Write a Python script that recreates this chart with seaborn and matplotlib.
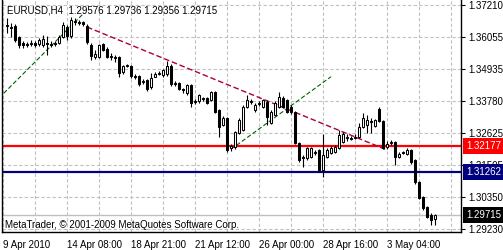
import matplotlib
matplotlib.use("Agg")
import matplotlib.pyplot as plt
import matplotlib.transforms as mtransforms
import seaborn as sns
import numpy as np

# ---------------- data (EURUSD H4) ----------------
opens = [1.36461, 1.36425, 1.36461, 1.36068, 1.35854, 1.35818, 1.35818, 1.35854, 1.35818, 1.35783,
         1.35854, 1.35818, 1.35854, 1.35854, 1.36068, 1.36425, 1.36104, 1.36639, 1.36604, 1.36604,
         1.36461, 1.35783, 1.35354, 1.35354, 1.35818, 1.35640, 1.35390, 1.35354, 1.35354, 1.34819,
         1.35033, 1.35033, 1.34676, 1.34676, 1.34462, 1.34533, 1.34283, 1.34640, 1.34747, 1.34712,
         1.34747, 1.35033, 1.34426, 1.34426, 1.34212, 1.34069, 1.34355, 1.33783, 1.33783, 1.33890,
         1.33890, 1.33819, 1.34105, 1.33462, 1.32927, 1.33177, 1.32105, 1.32141, 1.32641, 1.32748,
         1.33569, 1.33748, 1.33462, 1.33676, 1.33569, 1.33748, 1.32998, 1.33284, 1.33569, 1.33890,
         1.33819, 1.33569, 1.33391, 1.32284, 1.31749, 1.31749, 1.31784, 1.31963, 1.32034, 1.31320,
         1.31784, 1.31927, 1.31963, 1.32105, 1.32320, 1.32462, 1.32427, 1.32462, 1.32498, 1.32855,
         1.32927, 1.33069, 1.32891, 1.33498, 1.33069, 1.32141, 1.32284, 1.32320, 1.31784, 1.31927,
         1.31891, 1.32034, 1.31677, 1.30892, 1.30356, 1.29999, 1.29714, 1.29576]
highs = [1.36746, 1.36568, 1.36532, 1.36104, 1.35925, 1.35890, 1.35961, 1.35925, 1.36032, 1.36140,
         1.36104, 1.35925, 1.35925, 1.36140, 1.36604, 1.36497, 1.36782, 1.36746, 1.36675, 1.36639,
         1.36532, 1.35854, 1.35604, 1.35818, 1.35854, 1.35711, 1.35497, 1.35426, 1.35390, 1.35069,
         1.35104, 1.35069, 1.34747, 1.34712, 1.34569, 1.34569, 1.34783, 1.34819, 1.34854, 1.34926,
         1.35211, 1.35104, 1.34497, 1.34462, 1.34247, 1.34390, 1.34390, 1.33855, 1.34033, 1.33926,
         1.33926, 1.34140, 1.34140, 1.33498, 1.33248, 1.33212, 1.32248, 1.32712, 1.33177, 1.33641,
         1.33998, 1.33855, 1.33712, 1.33783, 1.33855, 1.33819, 1.33462, 1.33783, 1.34105, 1.33962,
         1.33855, 1.33641, 1.33426, 1.32320, 1.31856, 1.32141, 1.32141, 1.32034, 1.32070, 1.32605,
         1.32105, 1.32177, 1.32213, 1.32748, 1.32677, 1.32605, 1.32534, 1.32605, 1.32998, 1.33355,
         1.33284, 1.33177, 1.33141, 1.33569, 1.33105, 1.32355, 1.32391, 1.32355, 1.31963, 1.31998,
         1.32105, 1.32070, 1.31713, 1.30927, 1.30392, 1.30035, 1.29785, 1.29736]
lows = [1.36211, 1.36068, 1.35890, 1.35675, 1.35675, 1.35711, 1.35747, 1.35711, 1.35747, 1.35711,
        1.35426, 1.35711, 1.35747, 1.35818, 1.36032, 1.35961, 1.36032, 1.36497, 1.36497, 1.36461,
        1.35818, 1.35247, 1.35283, 1.35318, 1.35568, 1.35318, 1.35247, 1.35176, 1.34640, 1.34747,
        1.34997, 1.34604, 1.34569, 1.34319, 1.34390, 1.34140, 1.34212, 1.34640, 1.34712, 1.34640,
        1.34676, 1.34319, 1.34319, 1.34176, 1.34069, 1.33998, 1.33569, 1.33676, 1.33712, 1.33783,
        1.33676, 1.33783, 1.33355, 1.32498, 1.32891, 1.31963, 1.31998, 1.32070, 1.32605, 1.32712,
        1.33533, 1.33676, 1.33391, 1.33605, 1.33533, 1.32927, 1.32962, 1.33248, 1.33533, 1.33533,
        1.33355, 1.33319, 1.32248, 1.31606, 1.31427, 1.31677, 1.31749, 1.31856, 1.31249, 1.31070,
        1.31749, 1.31891, 1.31927, 1.32070, 1.32284, 1.32355, 1.32391, 1.32427, 1.32462, 1.32819,
        1.32641, 1.32641, 1.32855, 1.33034, 1.32070, 1.32070, 1.32213, 1.31499, 1.31749, 1.31891,
        1.31856, 1.31534, 1.30820, 1.30285, 1.29892, 1.29606, 1.29357, 1.29356]
closes = [1.36497, 1.36389, 1.35961, 1.35783, 1.35783, 1.35783, 1.35854, 1.35783, 1.35961, 1.35997,
          1.35818, 1.35783, 1.35818, 1.36068, 1.36497, 1.36104, 1.36675, 1.36604, 1.36568, 1.36532,
          1.35890, 1.35390, 1.35461, 1.35783, 1.35604, 1.35354, 1.35354, 1.35318, 1.34783, 1.35033,
          1.35069, 1.34676, 1.34640, 1.34390, 1.34497, 1.34212, 1.34604, 1.34747, 1.34783, 1.34890,
          1.35033, 1.34390, 1.34390, 1.34212, 1.34176, 1.34355, 1.33712, 1.33748, 1.33998, 1.33855,
          1.33712, 1.34105, 1.33391, 1.32855, 1.33177, 1.32034, 1.32177, 1.32677, 1.33105, 1.33569,
          1.33819, 1.33783, 1.33641, 1.33712, 1.33819, 1.33212, 1.33391, 1.33712, 1.33926, 1.33569,
          1.33391, 1.33391, 1.32284, 1.31677, 1.31784, 1.32105, 1.32105, 1.31927, 1.31320, 1.31856,
          1.32034, 1.32105, 1.32141, 1.32570, 1.32605, 1.32498, 1.32462, 1.32498, 1.32855, 1.33177,
          1.33105, 1.33034, 1.33105, 1.33069, 1.32105, 1.32248, 1.32320, 1.31784, 1.31891, 1.31963,
          1.32034, 1.31606, 1.30892, 1.30320, 1.29963, 1.29642, 1.29535, 1.29715]

time_labels = ["9 Apr 2010", "14 Apr 08:00", "18 Apr 21:00", "21 Apr 12:00",
               "26 Apr 00:00", "28 Apr 16:00", "3 May 04:00"]
price_ticks = [1.37210, 1.36055, 1.34935, 1.33780, 1.32625, 1.31505, 1.30350, 1.29230]

support_level = 1.32177
lower_level = 1.31262
last_price = 1.29715

red_trend_bars = [21, 96]
red_trend_prices = [1.36425, 1.32034]
green_trend1_bars = [-1, 20]
green_trend1_prices = [1.33890, 1.36889]
green_trend2_bars = [57, 82]
green_trend2_prices = [1.32060, 1.34651]

header = "EURUSD,H4  1.29576 1.29736 1.29356 1.29715"
footer = "MetaTrader, \u00a9 2001-2009 MetaQuotes Software Corp."

# ---------------- style ----------------
sns.set_style("white")
plt.rcParams['font.family'] = ['Liberation Sans', 'DejaVu Sans']
FS = 7

W, H = 503, 250
fig = plt.figure(figsize=(W / 100, H / 100), dpi=100)
fig.patch.set_facecolor("white")
ax = fig.add_axes([1.5 / W, 18 / H, 459.5 / W, 232 / H])
ax.set_facecolor("white")

n = len(closes)
idx = np.arange(1, n + 1)
o = np.array(opens); c = np.array(closes)
hi = np.array(highs); lo = np.array(lows)

ax.set_xlim(-0.375, 114.5)
ax.set_ylim(1.29107, 1.37389)

grid_kw = dict(color="#c0c0c0", lw=0.8, ls=(0, (3, 2)), zorder=0)
for k in range(0, 115, 8):
    ax.axvline(k, **grid_kw)
for p in price_ticks:
    ax.axhline(p, **grid_kw)

# current price line
ax.axhline(last_price, color="#c0c0c0", lw=1.0, zorder=1)

# horizontal levels
ax.axhline(support_level, color="#ff0000", lw=1.6, zorder=2)
ax.axhline(lower_level, color="#000080", lw=1.6, zorder=2)

# trend lines
sns.lineplot(x=red_trend_bars, y=red_trend_prices, ax=ax, color="#b00030",
             lw=1.0, linestyle=(0, (4, 2)), zorder=3)
sns.lineplot(x=green_trend1_bars, y=green_trend1_prices, ax=ax, color="#006400",
             lw=0.8, linestyle=(0, (4, 2)), zorder=3)
sns.lineplot(x=green_trend2_bars, y=green_trend2_prices, ax=ax, color="#006400",
             lw=0.8, linestyle=(0, (4, 2)), zorder=3)

# candles
ax.vlines(idx, lo, hi, color="black", lw=0.8, zorder=4)
up = c >= o
body_bottom = np.minimum(o, c)
body_h = np.maximum(np.abs(c - o), 0.00012)
ax.bar(idx, body_h, bottom=body_bottom, width=0.5,
       color=np.where(up, "white", "black"), edgecolor="black",
       linewidth=0.75, zorder=5)

# axes frame
for s in ["left", "bottom", "right"]:
    ax.spines[s].set_visible(True)
    ax.spines[s].set_color("black")
    ax.spines[s].set_linewidth(1.0)
ax.spines["top"].set_visible(False)

# y ticks on the right
ax.yaxis.tick_right()
ax.set_yticks(price_ticks)
ax.set_yticklabels([f"{p:.5f}" for p in price_ticks], fontsize=FS)
ax.tick_params(axis="y", direction="out", length=3, width=0.8, pad=2, colors="black")

# x ticks
ax.set_xticks([0, 16, 32, 48, 64, 80, 96])
ax.set_xticklabels(time_labels, fontsize=FS, ha="left")
ax.tick_params(axis="x", direction="out", length=4, width=0.8, pad=1.5, colors="black")

# price label boxes on the axis
trans = mtransforms.blended_transform_factory(ax.transAxes, ax.transData)
xlab = (466 - 1.5) / 459.5
for val, col in [(support_level, "#ff0000"), (lower_level, "#000080"), (last_price, "black")]:
    ax.text(xlab, val, f"{val:.5f}", transform=trans, fontsize=FS, color="white",
            va="center", ha="left", clip_on=False, zorder=10,
            bbox=dict(boxstyle="square,pad=0.3", facecolor=col, edgecolor="none"))

# header / footer text
fig.text(7 / W, 1 - 10.5 / H, header, fontsize=FS, color="black", va="center", ha="left")
fig.text(5 / W, 1 - 225 / H, footer, fontsize=FS, color="black", va="center", ha="left")

fig.savefig("out.png", dpi=100, facecolor="white")
